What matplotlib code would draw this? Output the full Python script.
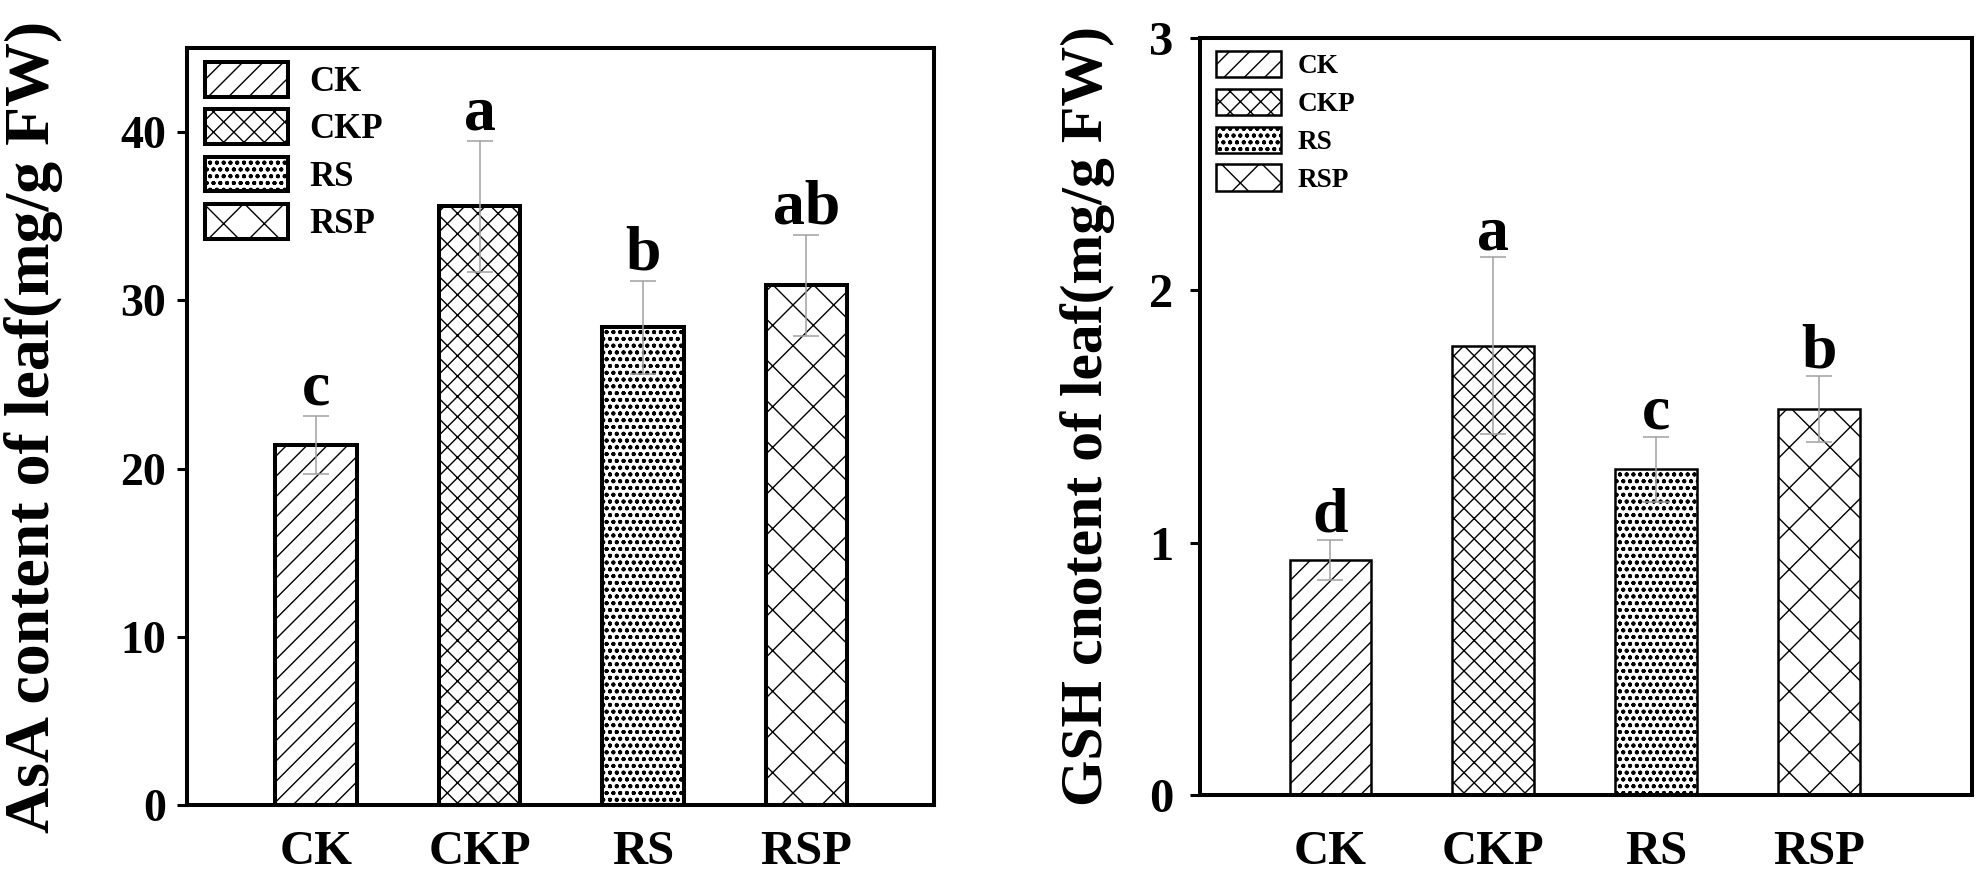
import matplotlib
matplotlib.use("Agg")
import matplotlib.pyplot as plt
import numpy as np

DPI = 122
K = 200 / DPI  # sizes below were tuned in points at 200 dpi

plt.rcParams['font.family'] = ['Liberation Serif', 'DejaVu Serif']
plt.rcParams['font.weight'] = 'bold'
plt.rcParams['hatch.linewidth'] = 0.5 * K

# data
groups = ['CK', 'CKP', 'RS', 'RSP']
hatches = ['//', 'xx', 'ooo...', 'x']

asa_mean = [21.4, 35.6, 28.4, 30.9]
asa_err = [1.75, 3.9, 2.75, 3.0]
asa_letters = ['c', 'a', 'b', 'ab']

gsh_mean = [0.93, 1.78, 1.29, 1.53]
gsh_err = [0.08, 0.35, 0.13, 0.13]
gsh_letters = ['d', 'a', 'c', 'b']


def draw_panel(ax, means, errs, letters, ylabel, ylim, yticks, xlim,
               edge_lw, label_x, label_size, tick_size, leg_size, leg_anchor,
               leg_hl, leg_hh, leg_ls, letter_off, xpad, ypad):
    x = np.arange(len(groups))
    bars = ax.bar(x, means, width=0.5, color='white', edgecolor='black',
                  linewidth=edge_lw * K, zorder=2)
    for b, h in zip(bars, hatches):
        b.set_hatch(h)
    ax.errorbar(x, means, yerr=errs, fmt='none', ecolor='#a0a0a0',
                elinewidth=0.55 * K, capsize=4.5 * K, capthick=0.55 * K,
                zorder=3)
    for xi, m, e, t in zip(x, means, errs, letters):
        ax.annotate(t, (xi, m + e), xytext=(0, letter_off * K),
                    textcoords='offset points', ha='center', va='baseline',
                    fontsize=23 * K, fontweight='bold')

    ax.set_xlim(*xlim)
    ax.set_ylim(*ylim)
    ax.set_yticks(yticks)
    ax.set_xticks(x)
    ax.set_xticklabels(groups, fontsize=17.5 * K, fontweight='bold')
    ax.tick_params(axis='x', length=0, pad=xpad * K)
    ax.tick_params(axis='y', direction='out', length=3.6 * K, width=1.1 * K,
                   labelsize=tick_size * K, pad=ypad * K)
    for sp in ax.spines.values():
        sp.set_linewidth(1.45 * K)

    ax.set_ylabel(ylabel, fontsize=label_size * K, fontweight='bold')
    ax.yaxis.set_label_coords(label_x, 0.5)

    ax.legend(bars, groups, loc='upper left', bbox_to_anchor=leg_anchor,
              frameon=False, handlelength=leg_hl, handleheight=leg_hh,
              labelspacing=leg_ls, handletextpad=0.6, borderpad=0,
              borderaxespad=0, prop={'weight': 'bold', 'size': leg_size * K})


fig = plt.figure(figsize=(1985 / DPI, 883 / DPI), dpi=DPI)
ax1 = fig.add_axes([0.0942, 0.0883, 0.3763, 0.8573])
ax2 = fig.add_axes([0.6045, 0.0997, 0.3889, 0.8573])

draw_panel(ax1, asa_mean, asa_err, asa_letters,
           'AsA content of leaf(mg/g FW)', (0, 45), [0, 10, 20, 30, 40],
           (-0.79, 3.78), 1.45, -0.166, 23, 16.5, 12.5, (0.024, 0.9815),
           2.4, 1.15, 0.3, 4, 9, 4)
draw_panel(ax2, gsh_mean, gsh_err, gsh_letters,
           'GSH cnotent of leaf(mg/g FW)', (0, 3), [0, 1, 2, 3],
           (-0.80, 3.94), 0.9, -0.110, 21.5, 17.5, 9.8, (0.021, 0.983),
           2.4, 1.1, 0.35, 3, 12.5, 6.0)

fig.savefig('out.png', dpi=DPI)
